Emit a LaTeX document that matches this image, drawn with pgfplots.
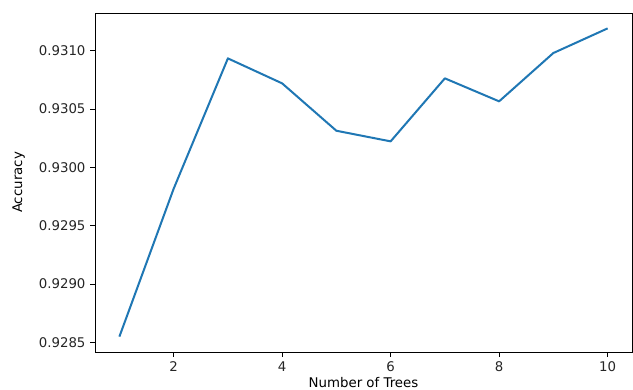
\documentclass[border=0pt]{standalone}
\usepackage{pgfplots}
\pgfplotsset{compat=1.18}
\usepackage{fontspec}
\setmainfont{DejaVu Sans}
\definecolor{mplblue}{HTML}{1F77B4}
\begin{document}
\fontsize{10}{12}\selectfont
\begin{tikzpicture}
\begin{axis}[
  name=ax,
  scale only axis,
  width=402.75pt, height=254.25pt,
  xmin=0.55, xmax=10.45,
  ymin=0.928418, ymax=0.931323,
  xtick={2,4,6,8,10},
  ytick={0.9285,0.9290,0.9295,0.9300,0.9305,0.9310},
  yticklabel style={/pgf/number format/.cd, fixed, fixed zerofill, precision=4},
  /pgf/number format/assume math mode=true,
  scaled y ticks=false,
  tick align=outside,
  tick pos=left,
  major tick length=3.5pt,
  tick style={black, line width=0.6pt},
  axis line style={black, line width=0.6pt},
  every axis/.append style={line width=0.6pt},
  tick label style={font=\fontsize{10}{12}\selectfont, color=black!85},
  label style={font=\fontsize{10}{12}\selectfont},
  xlabel={Number of Trees},
  ylabel={Accuracy},
  xlabel style={yshift=2.5pt},
  ylabel style={yshift=3.5pt},
  axis background/.style={fill=white},
]
\addplot[mplblue, line width=1.5pt, line join=round] coordinates {
(1,0.92855) (2,0.929817) (3,0.930934) (4,0.930720) (5,0.930314)
(6,0.930223) (7,0.930763) (8,0.930566) (9,0.930980) (10,0.931191)
};
\end{axis}
\pgfresetboundingbox
\path ([xshift=-71.25pt,yshift=9.75pt]ax.north west) rectangle ([xshift=0.75pt,yshift=-27.75pt]ax.south east);
\end{tikzpicture}
\end{document}
